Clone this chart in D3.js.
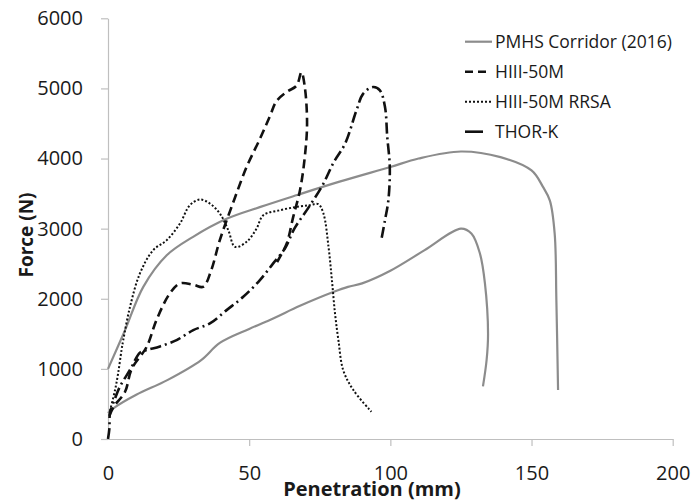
<!DOCTYPE html>
<html>
<head>
<meta charset="utf-8">
<script src="https://cdn.jsdelivr.net/npm/d3@7/dist/d3.min.js"></script>
<style>
  html, body { margin: 0; padding: 0; background: #fff; }
  svg { display: block; }
  text { font-family: "Open Sans", "DejaVu Sans", sans-serif; }
</style>
</head>
<body>
<svg id="chart" width="694" height="502"></svg>
<script>
// ---- Data (Penetration mm, Force N) ----
const seriesNames = ["PMHS Corridor (2016)", "HIII-50M", "HIII-50M RRSA", "THOR-K"];
const xTicks = [0, 50, 100, 150, 200];
const yTicks = [0, 1000, 2000, 3000, 4000, 5000, 6000];

const pmhsUpper = [[0,1000],[6,1550],[12.5,2170],[20.8,2620],[30,2880],[42,3140],[54,3310],[67,3480],[82,3670],[100,3880],[110,4000],[125,4100],[139,4020],[150,3830],[154,3600],[156.5,3400],[158.2,2930],[158.8,1980],[159.4,700]];
const pmhsLower = [[0,370],[2,440],[10,630],[21,840],[33,1126],[39.6,1370],[50,1570],[58.5,1720],[68,1900],[80,2100],[85,2170],[90,2220],[100,2400],[112,2690],[125,3000],[128.7,2930],[131.7,2650],[133.5,2220],[134.6,1500],[134.1,1130],[132.8,750]];
const hiii50m = [[0.5,330],[2,460],[6,670],[8.4,1000],[13.7,1315],[17.2,1700],[21.9,2076],[25.5,2219],[30.2,2200],[33.7,2170],[36.5,2400],[39.6,2836],[44.4,3380],[49.1,3880],[53.8,4280],[57.3,4600],[59.7,4820],[63.3,4950],[66.8,5040],[68.5,5230],[69.7,5020],[70.5,4500],[69.7,4023],[68,3548],[65.6,3168],[63.3,2789],[60.9,2598],[59.3,2480]];
const hiii50mRRSA = [[0.7,400],[2.5,700],[3.6,940],[4.8,1270],[5.4,1411],[7.8,1885],[11.3,2361],[16,2693],[20.8,2836],[25.5,3074],[29,3335],[32.6,3416],[36.1,3358],[39.6,3216],[42.6,2978],[45,2740],[49.1,2812],[52.6,3000],[55,3192],[60.9,3263],[66.8,3310],[71.5,3335],[74.5,3349],[76.3,3216],[78.1,2740],[79.3,2266],[80.4,1791],[81.6,1411],[83.3,983],[86.9,698],[93.3,389]];
const thorK = [[0,0],[0.5,150],[0.7,370],[2.5,580],[4.2,745],[8,1000],[11.3,1230],[13.7,1268],[18.4,1320],[24.3,1411],[30.2,1553],[36.1,1649],[42,1838],[47.9,2028],[53.8,2266],[58.5,2504],[62.7,2720],[66,3000],[71,3300],[76,3620],[80,3950],[84,4214],[88,4688],[90.4,4926],[93.9,5020],[96.3,4973],[98.1,4735],[98.9,4308],[99.8,3880],[99.3,3406],[98.1,3121],[96.9,2860]];

// ---- Layout ----
const svg = d3.select("#chart");
const x = d3.scaleLinear().domain([0, 200]).range([108, 672.7]);
const y = d3.scaleLinear().domain([0, 6000]).range([439, 18.3]);
const axisColor = "#bfbfbf";
const textColor = "#1a1a1a";

// Axes
const yAxis = svg.append("g").attr("transform", `translate(${x(0)},0)`)
  .call(d3.axisLeft(y).tickValues(yTicks).tickSizeInner(7).tickSizeOuter(0).tickPadding(18).tickFormat(d3.format("d")));
const xAxis = svg.append("g").attr("transform", `translate(0,${y(0)})`)
  .call(d3.axisBottom(x).tickValues(xTicks).tickSizeInner(7).tickSizeOuter(0).tickPadding(20).tickFormat(d3.format("d")));
[yAxis, xAxis].forEach(g => {
  g.selectAll("path, line").attr("stroke", axisColor).attr("stroke-width", 1.2);
  g.selectAll("text").attr("fill", textColor).style("font-size", "20px").style("font-family", '"Open Sans", sans-serif');
});
xAxis.selectAll(".tick").filter(d => d === 0).select("line").remove();

// Axis titles
svg.append("text").attr("x", 372).attr("y", 496).attr("text-anchor", "middle")
  .attr("fill", textColor).style("font-size", "20px").style("font-weight", "bold")
  .text("Penetration (mm)");
svg.append("text").attr("transform", "translate(33,235) rotate(-90)").attr("text-anchor", "middle")
  .attr("fill", textColor).style("font-size", "19px").style("font-weight", "bold")
  .text("Force (N)");

// Lines
const line = d3.line().x(d => x(d[0])).y(d => y(d[1])).curve(d3.curveCatmullRom.alpha(0.5));
const styles = [
  { data: [pmhsUpper, pmhsLower], stroke: "#8c8c8c", width: 2.2, dash: null },
  { data: [hiii50m], stroke: "#111", width: 2.6, dash: "9,5" },
  { data: [hiii50mRRSA], stroke: "#111", width: 2, dash: "2,2" },
  { data: [thorK], stroke: "#111", width: 2.6, dash: "11,4,2,4" }
];
styles.forEach(s => {
  s.data.forEach(arr => {
    svg.append("path").datum(arr).attr("d", line)
      .attr("fill", "none").attr("stroke", s.stroke).attr("stroke-width", s.width)
      .attr("stroke-dasharray", s.dash).attr("stroke-linejoin", "round");
  });
});

// Legend
const legendY = [41.7, 71.7, 101.7, 131.7];
const legendStyles = [
  { stroke: "#8c8c8c", width: 2.2, dash: null, x2: 492 },
  { stroke: "#111", width: 2.6, dash: "8,5", x2: 491 },
  { stroke: "#111", width: 2, dash: "2,2", x2: 492 },
  { stroke: "#111", width: 2.6, dash: null, x2: 483 }
];
seriesNames.forEach((name, i) => {
  const ls = legendStyles[i];
  svg.append("line").attr("x1", 465).attr("x2", ls.x2).attr("y1", legendY[i]).attr("y2", legendY[i])
    .attr("stroke", ls.stroke).attr("stroke-width", ls.width).attr("stroke-dasharray", ls.dash);
  svg.append("text").attr("x", 495).attr("y", legendY[i]).attr("dy", "0.35em")
    .attr("fill", textColor).style("font-size", "17.5px").text(name);
});
</script>
</body>
</html>
